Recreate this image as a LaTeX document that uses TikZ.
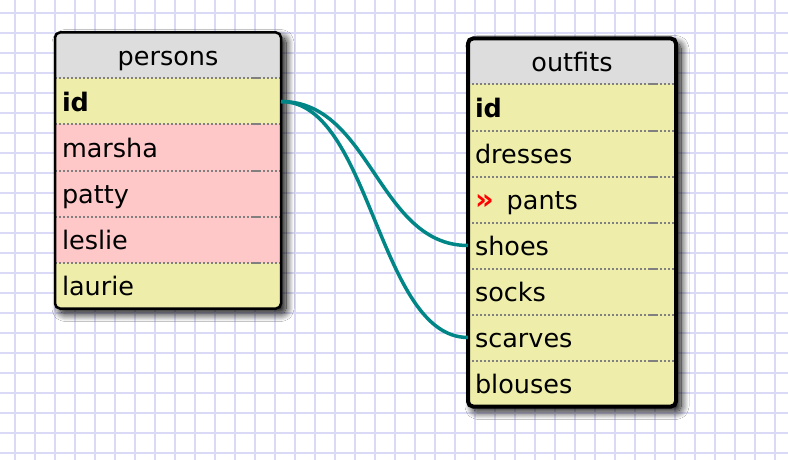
\documentclass[tikz,border=0pt]{standalone}
\usepackage{fontspec}
\setmainfont{DejaVu Sans}
\usepackage{tikz}
\usetikzlibrary{positioning,shadows.blur}

\definecolor{gridblue}{RGB}{218,218,246}
\definecolor{headgray}{RGB}{221,221,221}
\definecolor{rowyellow}{RGB}{238,238,170}
\definecolor{rowpink}{RGB}{255,200,200}
\definecolor{linkteal}{RGB}{0,134,134}
\definecolor{sepgray}{RGB}{128,128,128}

\begin{document}
\begin{tikzpicture}[x=1pt, y=-1pt,
		gridline/.style={draw=gridblue, line width=1.6},
		cell/.style={outer sep=0, inner ysep=0, inner xsep=7, minimum height=46,
			text height=21.5, text depth=1.5, align=left, font=\fontsize{25.5}{30}\selectfont},
		headcell/.style={cell, anchor=north west, fill=headgray, align=center},
		sepline/.style={draw=sepgray, line width=2, dash pattern=on 2pt off 2pt},
		sepdash/.style={draw=sepgray, line width=2},
		tableshadow/.style={blur shadow={shadow xshift=5pt, shadow yshift=-5pt,
			shadow blur radius=8pt, shadow blur steps=16, shadow opacity=100}},
		link/.style={draw=linkteal, line width=3.5}
	]
		\useasboundingbox (0,0) rectangle (788,460);
		\fill[white] (0,0) rectangle (788,460);

		% background grid
		\foreach \gx in {15,35,...,775}
		\draw[gridline] (\gx,0) -- (\gx,460);
		\foreach \gy in {13,33,...,453}
		\draw[gridline] (0,\gy) -- (788,\gy);

		% persons
		\coordinate (pNW) at (55,32.5);
		\coordinate (pSE) at (281,308.5);
		\path[tableshadow, rounded corners=5] (pNW) rectangle (pSE);
		\begin{scope}
			\clip[rounded corners=5] (pNW) rectangle (pSE);
			\node[headcell, text width=212] (pHead) at (pNW) {persons};
			\foreach \n/\t/\c [remember=\n as \prev (initially pHead)] in
				{pId/\textbf{id}/rowyellow, pMarsha/marsha/rowpink, pPatty/patty/rowpink,
				 pLeslie/leslie/rowpink, pLaurie/laurie/rowyellow}
			\node[cell, fill=\c, text width=212, below=0pt of \prev] (\n) {\t};
		\end{scope}
		\foreach \r in {pHead,pId,pMarsha,pPatty,pLeslie} {
			\draw[sepline] (\r.south west) -- (\r.south east);
			\draw[sepdash] ([xshift=-28pt]\r.south east) -- ([xshift=-20pt]\r.south east);
		}
		\draw[line width=2.5, rounded corners=5] (pNW) rectangle (pSE);

		% outfits
		\coordinate (oNW) at (468,38.5);
		\coordinate (oSE) at (676,406.5);
		\path[tableshadow, rounded corners=5] (oNW) rectangle (oSE);
		\begin{scope}
			\clip[rounded corners=5] (oNW) rectangle (oSE);
			\node[headcell, text width=194] (oHead) at (oNW) {outfits};
			\foreach \n/\t [remember=\n as \prev (initially oHead)] in
				{oId/\textbf{id}, oDresses/dresses,
				 oPants/{{\color{red}\bfseries\fontsize{29}{30}\selectfont »}\hspace{13pt}pants},
				 oShoes/shoes, oSocks/socks, oScarves/scarves, oBlouses/blouses}
			\node[cell, fill=rowyellow, text width=194, below=0pt of \prev] (\n) {\t};
		\end{scope}
		\foreach \r in {oHead,oId,oDresses,oPants,oShoes,oSocks,oScarves} {
			\draw[sepline] (\r.south west) -- (\r.south east);
			\draw[sepdash] ([xshift=-26pt]\r.south east) -- ([xshift=-18pt]\r.south east);
		}
		\draw[line width=4, rounded corners=5] (oNW) rectangle (oSE);

		% links
		\draw[link] (pId.east) .. controls +(90,0) and +(-90,0) .. (oShoes.west);
		\draw[link] (pId.east) .. controls +(90,0) and +(-90,0) .. (oScarves.west);
	\end{tikzpicture}
\end{document}
